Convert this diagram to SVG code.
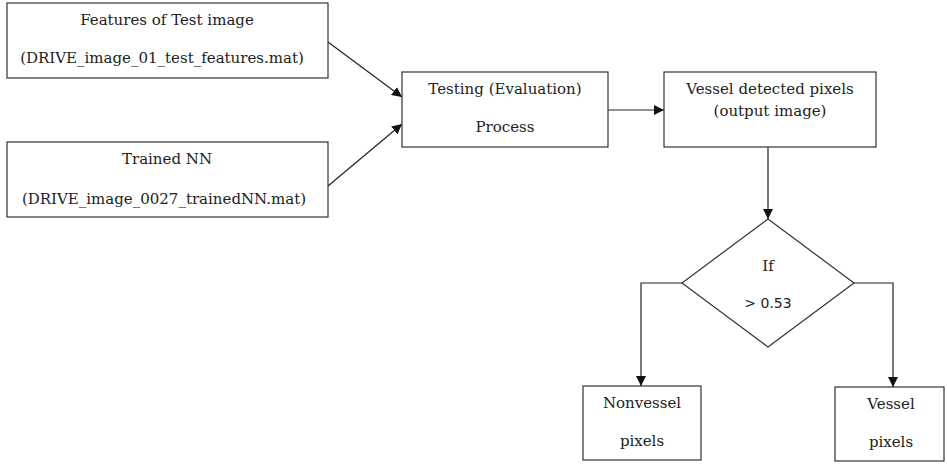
<svg xmlns="http://www.w3.org/2000/svg" width="947" height="464" viewBox="0 0 947 464">
<style>
.box{fill:#fff;stroke:#333;stroke-width:1.2}
.t{font-family:"DejaVu Serif","Liberation Serif",serif;font-size:15px;fill:#222;text-anchor:middle}
.s{font-family:"DejaVu Sans","Liberation Sans",sans-serif;font-size:14px;fill:#222;text-anchor:middle}
.c{fill:none;stroke:#222;stroke-width:1.2}
</style>
<defs>
<marker id="ah" viewBox="0 0 10 10" refX="10" refY="5" markerWidth="10" markerHeight="10" markerUnits="userSpaceOnUse" orient="auto">
<path d="M0,0 L10,5 L0,10 z" fill="#111"/>
</marker>
</defs>
<rect width="947" height="464" fill="#fff"/>
<g id="connectors">
<line class="c" x1="328" y1="42" x2="402" y2="97" marker-end="url(#ah)"/>
<line class="c" x1="328" y1="186" x2="402" y2="124" marker-end="url(#ah)"/>
<line class="c" x1="608" y1="110" x2="664" y2="110" marker-end="url(#ah)"/>
<line class="c" x1="768" y1="147" x2="768" y2="219" marker-end="url(#ah)"/>
<polyline class="c" points="682,283 641,283 641,386" marker-end="url(#ah)"/>
<polyline class="c" points="854,283 893,283 893,387" marker-end="url(#ah)"/>
</g>
<g id="features">
<rect class="box" x="7" y="3" width="321" height="75"/>
<text class="t" x="167" y="25">Features of Test image</text>
<text class="t" x="162" y="63">(DRIVE_image_01_test_features.mat)</text>
</g>
<g id="trained">
<rect class="box" x="7" y="142" width="321" height="75"/>
<text class="t" x="167" y="164">Trained NN</text>
<text class="t" x="164" y="204">(DRIVE_image_0027_trainedNN.mat)</text>
</g>
<g id="testing">
<rect class="box" x="402" y="72" width="206" height="75"/>
<text class="t" x="505" y="94">Testing (Evaluation)</text>
<text class="t" x="505" y="132">Process</text>
</g>
<g id="vessel-detected">
<rect class="box" x="664" y="72" width="212" height="75"/>
<text class="t" x="770" y="94">Vessel detected pixels</text>
<text class="t" x="770" y="116">(output image)</text>
</g>
<g id="decision">
<polygon class="box" points="768,219 854,283 768,347 682,283"/>
<text class="t" x="768" y="271">If</text>
<text class="s" x="768" y="308">&gt; 0.53</text>
</g>
<g id="nonvessel">
<rect class="box" x="583" y="386" width="118" height="74"/>
<text class="t" x="642" y="408">Nonvessel</text>
<text class="t" x="642" y="446">pixels</text>
</g>
<g id="vessel">
<rect class="box" x="835" y="387" width="109" height="74"/>
<text class="t" x="891" y="409">Vessel</text>
<text class="t" x="891" y="447">pixels</text>
</g>
</svg>
